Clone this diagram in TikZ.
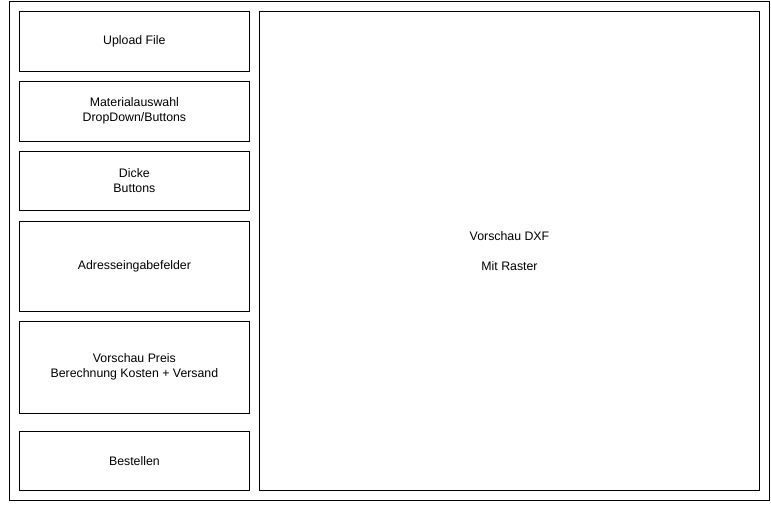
\documentclass[tikz,border=0pt]{standalone}
\usepackage{fontspec}
\setmainfont{Liberation Sans}
\usetikzlibrary{positioning}

\begin{document}
\begin{tikzpicture}[x=0.75pt, y=-0.75pt, line width=0.75pt,
        panel/.style={draw, rectangle, inner sep=0pt, outer sep=0pt, align=center,
            font=\fontsize{9.25}{11.25}\selectfont, minimum width=229.8*0.75pt}]
            \useasboundingbox (0,0) rectangle (771,504);
            \draw (9.5,1.5) rectangle (769.3,500.7);
            \draw (134.4,41.25) node[panel, minimum height=59.5*0.75pt]      (upload) {Upload File};
            \draw (134.4,111.15) node[panel, minimum height=59.7*0.75pt]     (material) {Materialauswahl\\DropDown/Buttons};
            \draw (134.4,181) node[panel, minimum height=59.4*0.75pt]        (dicke) {Dicke\\Buttons};
            \draw (134.4,266.15) node[panel, minimum height=89.7*0.75pt]     (adresse) {Adresseingabefelder};
            \draw (134.4,367.15) node[panel, minimum height=91.7*0.75pt]     (preis) {Vorschau Preis\\Berechnung Kosten + Versand};
            \draw (134.4,461.1) node[panel, minimum height=59.2*0.75pt]      (bestellen) {Bestellen};
            \draw (509.5,251.1) node[panel, minimum width=499.6*0.75pt, minimum height=479.2*0.75pt,
                font=\fontsize{9.25}{10.9}\selectfont] (vorschau) {Vorschau DXF\\[10.9pt]Mit Raster};
\end{tikzpicture}
\end{document}
